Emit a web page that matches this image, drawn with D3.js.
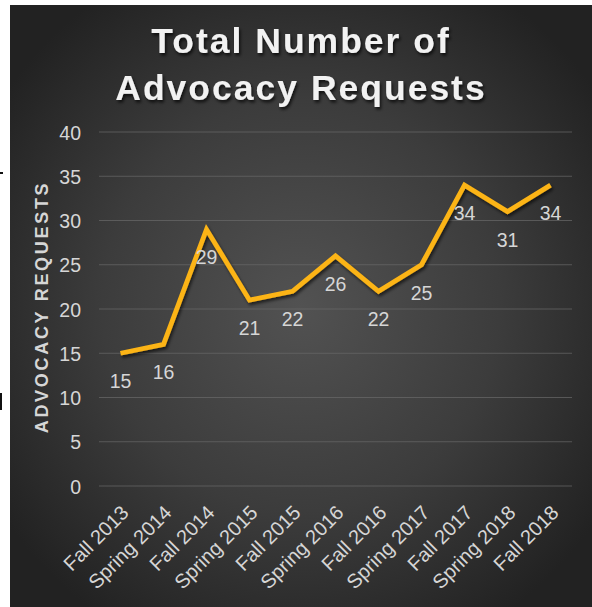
<!DOCTYPE html>
<html><head><meta charset="utf-8">
<script src="https://cdn.jsdelivr.net/npm/d3@7"></script>
<style>
html,body{margin:0;padding:0;background:#fff;}
svg{display:block;font-family:"Liberation Sans",Arial,sans-serif;}
</style></head>
<body>
<script>
const categories = ["Fall 2013","Spring 2014","Fall 2014","Spring 2015","Fall 2015","Spring 2016","Fall 2016","Spring 2017","Fall 2017","Spring 2018","Fall 2018"];
const requests = [15,16,29,21,22,26,22,25,34,31,34];
const yTicks = [0,5,10,15,20,25,30,35,40];
const titleLines = ["Total Number of","Advocacy Requests"];
const yTitle = "ADVOCACY REQUESTS";

const W = 592, H = 607;
const svg = d3.select("body").append("svg").attr("width", W).attr("height", H);
const defs = svg.append("defs");
const rg = defs.append("radialGradient").attr("id","bg").attr("cx","50%").attr("cy","50%").attr("r","62%");
rg.append("stop").attr("offset","0%").attr("stop-color","#525252");
rg.append("stop").attr("offset","55%").attr("stop-color","#3c3c3c");
rg.append("stop").attr("offset","100%").attr("stop-color","#222222");
const f = defs.append("filter").attr("id","shadow").attr("x","-10%").attr("y","-10%").attr("width","120%").attr("height","130%");
f.append("feDropShadow").attr("dx",1.5).attr("dy",2.5).attr("stdDeviation",1.5).attr("flood-color","#000").attr("flood-opacity",0.6);
const ft = defs.append("filter").attr("id","tshadow").attr("x","-10%").attr("y","-20%").attr("width","120%").attr("height","150%");
ft.append("feDropShadow").attr("dx",1.5).attr("dy",2.5).attr("stdDeviation",1.5).attr("flood-color","#000").attr("flood-opacity",0.7);

// stray marks at left margin
svg.append("rect").attr("x",0).attr("y",172).attr("width",3).attr("height",2).attr("fill","#111");
svg.append("rect").attr("x",0).attr("y",393).attr("width",2).attr("height",17).attr("fill","#111");

svg.append("rect").attr("x",10).attr("y",5).attr("width",W-10).attr("height",H-5).attr("fill","url(#bg)");

const plot = {left:99, right:572, top:132, bottom:486};
const x = d3.scalePoint().domain(categories).range([plot.left, plot.right]).padding(0.5);
const y = d3.scaleLinear().domain([0,40]).range([plot.bottom, plot.top]);

// gridlines
svg.append("g").selectAll("line").data(yTicks).join("line")
  .attr("x1",plot.left).attr("x2",plot.right)
  .attr("y1",d=>y(d)).attr("y2",d=>y(d))
  .attr("stroke","#6a6a6a").attr("stroke-opacity",0.7).attr("stroke-width",1.2);

// y axis
const yAxis = svg.append("g").attr("transform",`translate(${plot.left-18},0)`)
  .call(d3.axisLeft(y).tickValues(yTicks).tickSize(0).tickPadding(0));
yAxis.select(".domain").remove();
yAxis.selectAll("text").attr("fill","#d6d6d6").style("font-size","19.5px").attr("dy","0.36em");

// x axis
const xAxis = svg.append("g").attr("transform",`translate(0,${plot.bottom})`)
  .call(d3.axisBottom(x).tickSize(0).tickPadding(0));
xAxis.select(".domain").remove();
xAxis.selectAll("text").attr("fill","#d6d6d6").style("font-size","20px")
  .attr("text-anchor","end").attr("dy","0.35em").attr("y",0)
  .attr("transform","translate(4,23) rotate(-45)");

// y title
svg.append("text").attr("transform",`translate(48,307) rotate(-90)`)
  .attr("text-anchor","middle").attr("fill","#d6d6d6")
  .style("font-size","18px").style("font-weight","bold").style("letter-spacing","2.7px")
  .text(yTitle);

// title
svg.append("g").attr("filter","url(#tshadow)").selectAll("text").data(titleLines).join("text")
  .attr("x",301).attr("y",(d,i)=>53+i*47)
  .attr("text-anchor","middle").attr("fill","#f2f2f2")
  .style("font-size","35.5px").style("font-weight","bold").style("letter-spacing","2px")
  .text(d=>d);

// line
const line = d3.line().x((d,i)=>x(categories[i])).y(d=>y(d));
svg.append("path").datum(requests).attr("d",line)
  .attr("fill","none").attr("stroke","#FCB415").attr("stroke-width",4.8)
  .attr("stroke-linejoin","miter").attr("filter","url(#shadow)");

// data labels
svg.append("g").selectAll("text").data(requests).join("text")
  .attr("x",(d,i)=>x(categories[i])).attr("y",d=>y(d)+35)
  .attr("text-anchor","middle").attr("fill","#d6d6d6").style("font-size","19.5px")
  .text(d=>d);
</script>
</body></html>
